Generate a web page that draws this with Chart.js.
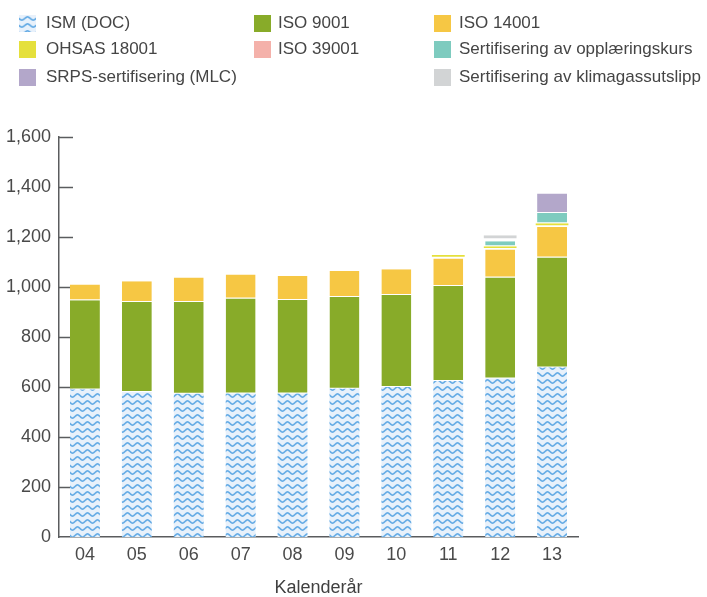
<!DOCTYPE html>
<html>
<head>
<meta charset="utf-8">
<script src="https://cdn.jsdelivr.net/npm/chart.js@4"></script>
<style>
  html, body { margin: 0; padding: 0; background: #fff; }
  #wrap { position: relative; width: 707px; height: 597px; }
  #chart { position: absolute; left: 0; top: 0; }
  .lg { position: absolute; font: 17px "Liberation Sans", Arial, sans-serif; color: #454545; white-space: nowrap; line-height: 20px; }
  .sw { position: absolute; width: 17px; height: 17px; }
</style>
</head>
<body>
<div id="wrap">
  <canvas id="chart" width="707" height="597"></canvas>
  <div id="legend"></div>
</div>
<script>
// ---- data ----
const years    = ["04","05","06","07","08","09","10","11","12","13"];
const ism      = [590, 580, 573, 574, 574, 593, 600, 624, 634, 678];
const iso9001  = [357, 360, 367, 380, 374, 367, 368, 380, 404, 440];
const iso14001 = [63, 83, 98, 96, 96, 104, 103, 110, 112, 122];
const ohsas    = [0, 0, 0, 0, 0, 0, 0, 14, 13, 15];
const iso39001 = [0, 0, 0, 0, 0, 0, 0, 0, 0, 0];
const kurs     = [0, 0, 0, 0, 0, 0, 0, 0, 20, 41];
const klima    = [0, 0, 0, 0, 0, 0, 0, 0, 24, 0];
const mlc      = [0, 0, 0, 0, 0, 0, 0, 0, 0, 78];
const yTicks   = [0, 200, 400, 600, 800, 1000, 1200, 1400, 1600];
const seriesNames = ["ISM (DOC)", "ISO 9001", "ISO 14001", "OHSAS 18001", "ISO 39001",
  "Sertifisering av opplæringskurs", "Sertifisering av klimagassutslipp", "SRPS-sertifisering (MLC)"];

// wave pattern for ISM
function makeWave() {
  const c = document.createElement('canvas');
  c.width = 10; c.height = 7;
  const g = c.getContext('2d');
  g.fillStyle = '#e8f1fb';
  g.fillRect(0, 0, 10, 7);
  g.strokeStyle = '#66ace5';
  g.lineWidth = 1.7;
  g.beginPath();
  for (let x = -1; x <= 11; x += 0.5) {
    const y = 3.5 + 1.6 * Math.sin(x / 10 * Math.PI * 2);
    if (x === -1) g.moveTo(x, y); else g.lineTo(x, y);
  }
  g.stroke();
  return c;
}
const waveTile = makeWave();
const ctx = document.getElementById('chart').getContext('2d');
const wave = ctx.createPattern(waveTile, 'repeat');

const colors = [wave, '#88ab29', '#f6c744', '#e5e03c', '#f4b1aa', '#7ecbbf', '#d2d4d5', '#b3a7ca'];
const datas = [ism, iso9001, iso14001, ohsas, iso39001, kurs, klima, mlc];

function bw(i) {
  if (i === 0) return 0;
  if (i === 3) return {top: 0, bottom: 2, left: 0, right: 0};
  if (i === 6) return {top: 0, bottom: 4, left: 0, right: 0};
  return {top: 0, bottom: 1, left: 0, right: 0};
}

const datasets = datas.map((d, i) => ({
  label: seriesNames[i],
  data: d,
  backgroundColor: colors[i],
  borderColor: '#ffffff',
  borderWidth: bw(i),
  borderSkipped: false,
  barPercentage: (i === 3 || i === 6) ? 0.71 : 0.64,
  categoryPercentage: 0.9
}));

const inwardTicks = {
  id: 'inwardTicks',
  beforeDatasetsDraw(chart) {
    const y = chart.scales.y;
    const c = chart.ctx;
    c.save();
    c.strokeStyle = '#5a5c5e';
    c.lineWidth = 1.5;
    yTicks.forEach(v => {
      if (v === 0) return;
      const py = Math.round(y.getPixelForValue(v)) + 0.5;
      c.beginPath();
      c.moveTo(y.right, py);
      c.lineTo(y.right + 14, py);
      c.stroke();
    });
    c.restore();
  }
};

new Chart(ctx, {
  type: 'bar',
  data: { labels: years, datasets },
  options: {
    responsive: false,
    animation: false,
    layout: { padding: { top: 137, right: 129, left: 0, bottom: 0 } },
    plugins: { legend: { display: false }, tooltip: { enabled: false } },
    scales: {
      x: {
        stacked: true,
        grid: { display: false, drawTicks: false },
        border: { display: true, color: '#5a5c5e', width: 1.5 },
        ticks: { color: '#4a4a4a', font: { family: 'Liberation Sans', size: 18 }, padding: 7 },
        title: { display: true, text: 'Kalenderår', color: '#404040', font: { family: 'Liberation Sans', size: 18, lineHeight: 1.0 }, padding: { top: 10, bottom: 0 } },
        afterFit(s) { s.height = 60; }
      },
      y: {
        stacked: true,
        min: 0, max: 1600,
        afterBuildTicks(s) { s.ticks = yTicks.map(v => ({ value: v })); },
        grid: { display: false, drawTicks: false },
        border: { display: true, color: '#5a5c5e', width: 1.5 },
        ticks: {
          color: '#4a4a4a',
          font: { family: 'Liberation Sans', size: 18 },
          padding: 8,
          callback: v => v.toLocaleString('en-US')
        },
        afterFit(s) { s.width = 59; }
      }
    }
  },
  plugins: [inwardTicks]
});

// HTML legend: [series index, swatch x, text x, row centre y]
const legendPos = [
  [0, 19, 46, 23], [1, 254, 278, 23], [2, 434, 459, 23],
  [3, 19, 46, 49], [4, 254, 278, 49], [5, 434, 459, 49],
  [7, 19, 46, 77], [6, 434, 459, 77]
];
const lg = document.getElementById('legend');
legendPos.forEach(([i, x, tx, y]) => {
  let sw;
  if (i === 0) {
    sw = document.createElement('canvas');
    sw.width = 15; sw.height = 17;
    const g = sw.getContext('2d');
    g.fillStyle = g.createPattern(waveTile, 'repeat');
    g.fillRect(0, 0, 15, 17);
  } else {
    sw = document.createElement('div');
    sw.style.background = colors[i];
  }
  sw.className = 'sw';
  sw.style.left = x + 'px';
  sw.style.top = (y - 8) + 'px';
  lg.appendChild(sw);
  const t = document.createElement('div');
  t.className = 'lg';
  t.textContent = seriesNames[i];
  t.style.left = tx + 'px';
  t.style.top = (y - 10) + 'px';
  lg.appendChild(t);
});
</script>
</body>
</html>
